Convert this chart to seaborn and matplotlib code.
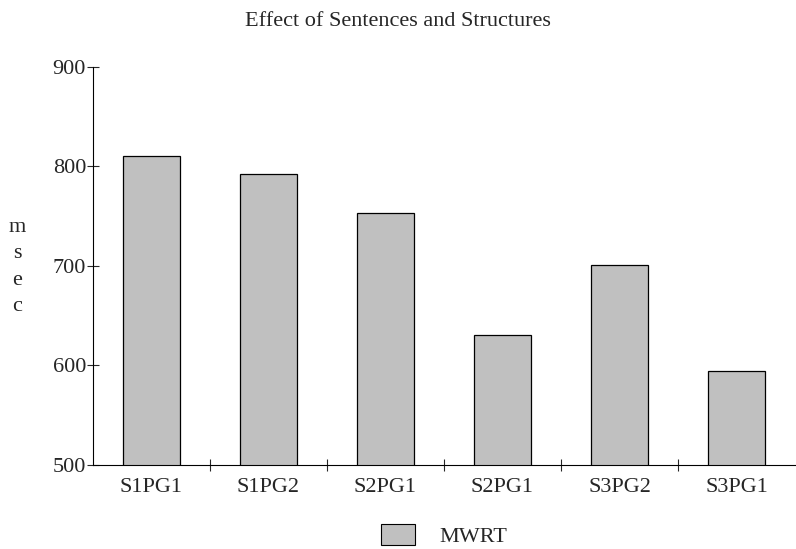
import matplotlib
matplotlib.use("Agg")
import matplotlib.pyplot as plt
from matplotlib.patches import Patch
import seaborn as sns

conditions = ["S1PG1", "S1PG2", "S2PG1", "S2PG1", "S3PG2", "S3PG1"]
mwrt = [811, 792, 753, 631, 701, 594]
yticks = [500, 600, 700, 800, 900]

sns.set_style("white")
plt.rcParams["font.family"] = ["Liberation Serif", "DejaVu Serif"]

fig = plt.figure(figsize=(7.96, 5.49), dpi=100)
ax = fig.add_axes([0.1168, 0.153, 0.8819, 0.725])

pos = list(range(len(conditions)))
sns.barplot(x=pos, y=mwrt, color="#c0c0c0", saturation=1, width=0.49,
            edgecolor="black", linewidth=0.9, ax=ax)

ax.set_ylim(500, 900)
ax.set_xlim(-0.5, len(conditions) - 0.5)
ax.set_yticks(yticks)
ax.set_yticklabels([str(t) for t in yticks], fontsize=16)
ax.set_xticks([p + 0.5 for p in pos[:-1]])
ax.set_xticklabels([])
ax.set_xticks(pos, minor=True)
ax.set_xticklabels(conditions, minor=True, fontsize=16)
ax.tick_params(axis="x", which="major", direction="inout", length=8, width=0.8, bottom=True)
ax.tick_params(axis="x", which="minor", length=0, pad=9.5)
ax.tick_params(axis="y", direction="inout", length=9, width=0.8, left=True, pad=0.5)

for s in ["top", "right"]:
    ax.spines[s].set_visible(False)
for s in ["left", "bottom"]:
    ax.spines[s].set_color("black")
    ax.spines[s].set_linewidth(0.8)

fig.text(0.5, 1 - 21 / 549, "Effect of Sentences and Structures",
         ha="center", va="center", fontsize=16)
fig.text(17 / 796, 1 - 267 / 549, "m\ns\ne\nc", ha="center", va="center",
         fontsize=16, linespacing=1.52)

handles = [Patch(facecolor="#c0c0c0", edgecolor="black", linewidth=0.8, label="MWRT")]
fig.legend(handles=handles, loc="center", bbox_to_anchor=(444.5 / 796, 13.5 / 549),
           frameon=False, fontsize=16, handlelength=1.49, handleheight=1.04,
           handletextpad=1.13, borderpad=0.1)

fig.savefig("out.png", dpi=100)
